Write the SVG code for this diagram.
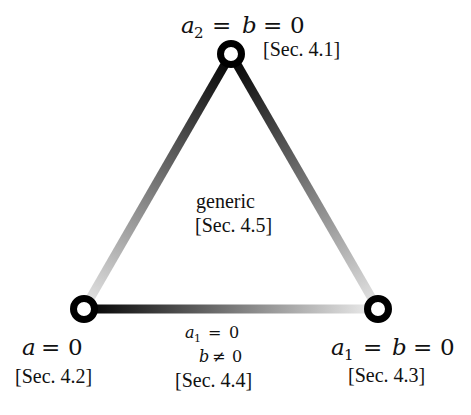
<svg xmlns="http://www.w3.org/2000/svg" width="471" height="415" viewBox="0 0 471 415">
<style>
.m{font-family:"DejaVu Serif","Liberation Serif",serif;fill:#111}
.big{font-size:23px}
.mid{font-size:16px}
.sub{font-size:15px}
.subm{font-size:11px}
.sec{font-family:"Liberation Serif","DejaVu Serif",serif;font-size:20px;fill:#111}
.i{font-style:italic}
.node{fill:#fff;stroke:#000;stroke-width:7}
.edge{stroke-width:9;fill:none;stroke-linecap:butt}
</style>
<defs>
<linearGradient id="gL" gradientUnits="userSpaceOnUse" x1="231" y1="54" x2="84" y2="309">
<stop offset="0" stop-color="#000"/><stop offset="1" stop-color="#e8e8e8"/>
</linearGradient>
<linearGradient id="gR" gradientUnits="userSpaceOnUse" x1="231" y1="54" x2="378" y2="309">
<stop offset="0" stop-color="#000"/><stop offset="1" stop-color="#e8e8e8"/>
</linearGradient>
<linearGradient id="gB" gradientUnits="userSpaceOnUse" x1="84" y1="309" x2="378" y2="309">
<stop offset="0" stop-color="#000"/><stop offset="1" stop-color="#f0f0f0"/>
</linearGradient>
</defs>
<g id="connectors">
<line class="edge" x1="231" y1="54" x2="84" y2="309" stroke="url(#gL)"/>
<line class="edge" x1="231" y1="54" x2="378" y2="309" stroke="url(#gR)"/>
<line class="edge" x1="84" y1="309" x2="378" y2="309" stroke="url(#gB)"/>
</g>
<g id="node-top">
<circle class="node" cx="231" cy="54" r="10.5"/>
<text class="m big" y="33"><tspan class="i" x="181">a</tspan><tspan class="sub" x="194" y="38">2</tspan><tspan x="212" y="33">=</tspan><tspan class="i" x="242">b</tspan><tspan x="263">=</tspan><tspan x="290">0</tspan></text>
<text class="sec" x="263" y="56">[Sec. 4.1]</text>
</g>
<g id="node-left">
<circle class="node" cx="84" cy="309" r="10.5"/>
<text class="m big" y="355"><tspan class="i" x="22">a</tspan><tspan x="41">=</tspan><tspan x="68">0</tspan></text>
<text class="sec" x="15" y="383">[Sec. 4.2]</text>
</g>
<g id="node-right">
<circle class="node" cx="378" cy="309" r="10.5"/>
<text class="m big" y="355"><tspan class="i" x="331">a</tspan><tspan class="sub" x="344" y="360">1</tspan><tspan x="363" y="355">=</tspan><tspan class="i" x="392">b</tspan><tspan x="413">=</tspan><tspan x="440">0</tspan></text>
<text class="sec" x="348" y="382">[Sec. 4.3]</text>
</g>
<g id="node-generic">
<text class="sec" x="196" y="208">generic</text>
<text class="sec" x="195" y="232">[Sec. 4.5]</text>
</g>
<g id="edge-label-bottom">
<text class="m mid" y="338"><tspan class="i" x="185">a</tspan><tspan class="subm" x="194" y="342">1</tspan><tspan x="208" y="338">=</tspan><tspan x="229">0</tspan></text>
<text class="m mid" y="362"><tspan class="i" x="199">b</tspan><tspan x="212">≠</tspan><tspan x="232">0</tspan></text>
<text class="sec" x="175" y="387">[Sec. 4.4]</text>
</g>
</svg>
